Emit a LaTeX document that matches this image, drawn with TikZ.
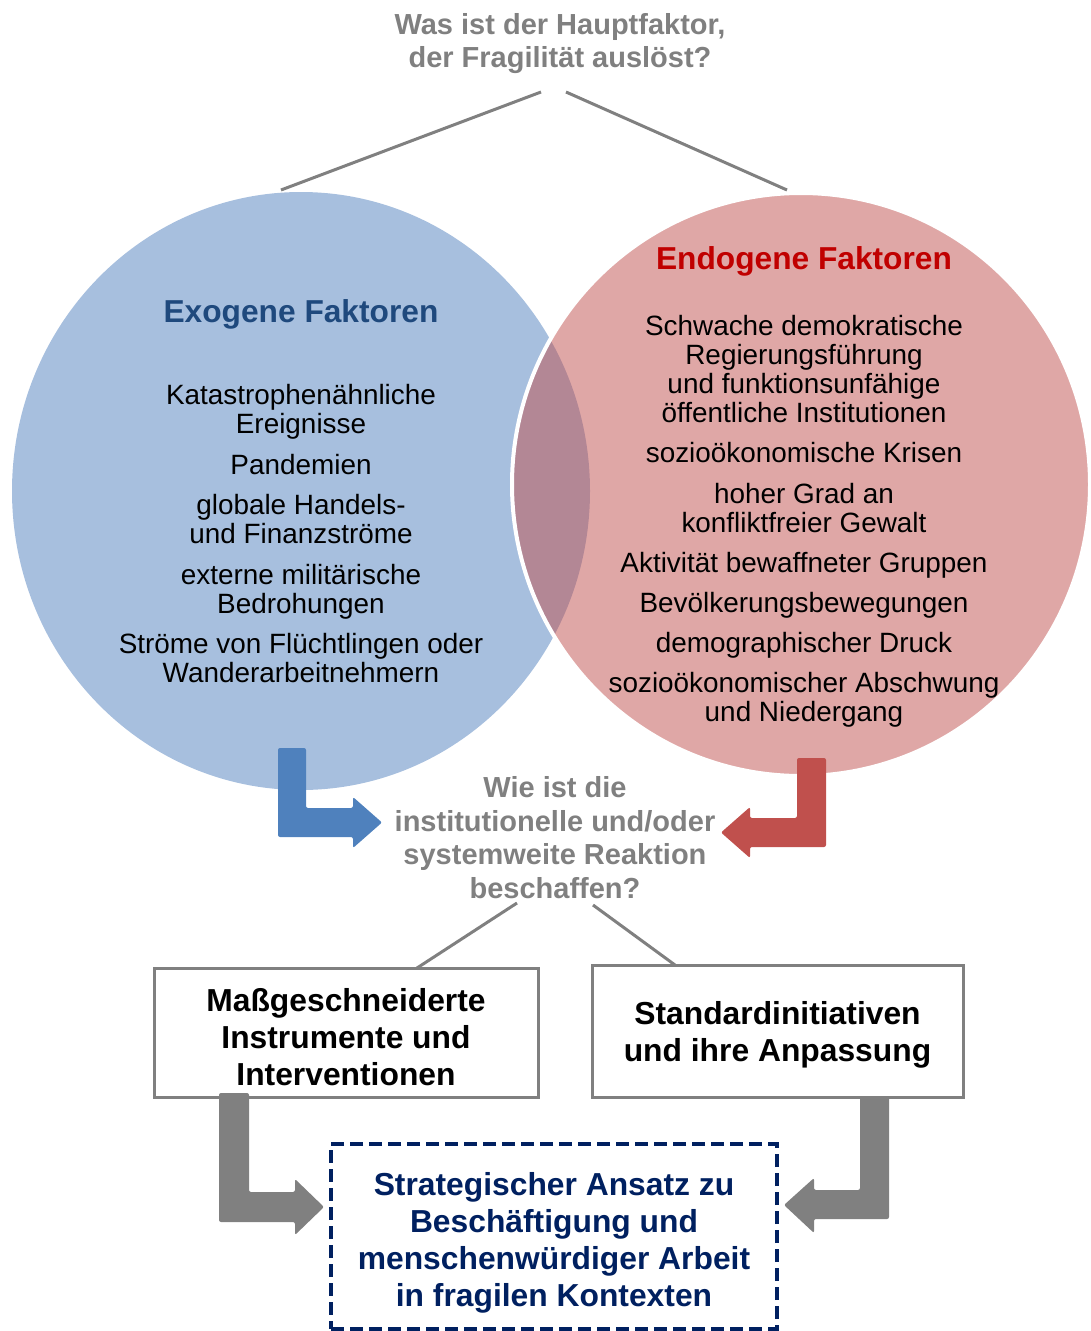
\documentclass[tikz,border=0pt]{standalone}
\usepackage{fontspec}
\setmainfont{Liberation Sans}
\definecolor{askgray}{RGB}{128,128,128}
\definecolor{exoblue}{RGB}{167,191,222}
\definecolor{exodark}{RGB}{31,73,125}
\definecolor{arrblue}{RGB}{79,129,189}
\definecolor{endored}{RGB}{192,80,77}
\definecolor{endodark}{RGB}{192,0,0}
\definecolor{navy}{RGB}{0,32,96}
% pushes the text of a box down a little
\newcommand{\toplift}[1]{\rule{0pt}{#1}}

\begin{document}
\begin{tikzpicture}[x=1pt, y=-1pt,
  ask/.style = {font=\fontsize{29}{33.5}\selectfont\bfseries, text=askgray, align=center, inner sep=0},
  head/.style = {font=\fontsize{31.7}{36}\selectfont\bfseries, inner sep=0},
  items/.style = {font=\fontsize{27.9}{29}\selectfont, align=center, inner sep=0},
  box/.style = {draw=askgray, line width=3pt, align=center, inner sep=0, font=\fontsize{31.8}{37}\selectfont\bfseries},
  link/.style = {draw=askgray, line width=3pt},
  blockarrow/.style = {rounded corners=2pt}]
\useasboundingbox (0,0) rectangle (1090,1331);

% the two circles
\fill[exoblue] (301,491) ellipse [x radius=289pt, y radius=299pt];
\draw[draw=white, line width=4pt, fill=endored, fill opacity=0.5] (801,484.5) ellipse [x radius=289pt, y radius=291.5pt];

% questions
\node[ask] (q1) at (560,43.5) {Was ist der Hauptfaktor,\\der Fragilität auslöst?};
\node[ask] (q2) at (555,837.5) {Wie ist die\\institutionelle und/oder\\systemweite Reaktion\\beschaffen?};

% factors
\node[head, text=exodark] (exo) at (301,314) {Exogene Faktoren};
\node[head, text=endodark] (endo) at (804,261) {Endogene Faktoren};
\node[items] (exolist) at (301,534) {Katastrophenähnliche\\Ereignisse\\[11.5pt]
  Pandemien\\[11.5pt]
  globale Handels-\\und Finanzströme\\[11.5pt]
  externe militärische\\Bedrohungen\\[11.5pt]
  Ströme von Flüchtlingen oder\\Wanderarbeitnehmern};
\node[items] (endolist) at (804,521.5) {Schwache demokratische\\Regierungsführung\\und funktionsunfähige\\öffentliche Institutionen\\[11pt]
  sozioökonomische Krisen\\[12pt]
  hoher Grad an\\konfliktfreier Gewalt\\[11pt]
  Aktivität bewaffneter Gruppen\\[11pt]
  Bevölkerungsbewegungen\\[11pt]
  demographischer Druck\\[11pt]
  sozioökonomischer Abschwung\\und Niedergang};

% answers
\node[box, minimum width=384, minimum height=129] (boxl) at (346,1032.5) {\toplift{33pt}Maßgeschneiderte\\Instrumente und\\Interventionen};
\node[box, minimum width=371, minimum height=132] (boxr) at (777.5,1031) {\toplift{31pt}Standardinitiativen\\und ihre Anpassung};
\node[draw=navy, line width=4pt, dash pattern=on 13pt off 6pt, minimum width=446, minimum height=185,
  align=center, inner sep=0, text=navy, font=\fontsize{31.8}{37}\selectfont\bfseries] (goal) at (554,1236.5)
  {\toplift{35pt}Strategischer Ansatz zu\\Beschäftigung und\\menschenwürdiger Arbeit\\in fragilen Kontexten};

% connectors
\coordinate (q1l) at (541,92);
\coordinate (q1r) at (566,92);
\coordinate (exotop) at (281,190);
\coordinate (endotop) at (787,190);
\coordinate (q2l) at (517,903);
\coordinate (q2r) at (593,905);
\coordinate (boxltop) at (417,968);
\coordinate (boxrtop) at (675,965);
\draw[link] (q1l) -- (exotop);
\draw[link] (q1r) -- (endotop);
\draw[link] (q2l) -- (boxltop);
\draw[link] (q2r) -- (boxrtop);

% block arrows
\fill[arrblue, blockarrow] (278,748) -- (306,748) -- (306,808) -- (353,808) -- (353,797) -- (382,822.5)
  -- (353,848) -- (353,837) -- (278,837) -- cycle;
\fill[endored, blockarrow] (797,758) -- (826,758) -- (826,847) -- (750,847) -- (750,858) -- (721,832.5)
  -- (750,807) -- (750,818) -- (797,818) -- cycle;
\fill[askgray, blockarrow] (219,1093) -- (249,1093) -- (249,1192) -- (295,1192) -- (295,1179) -- (324,1207)
  -- (295,1235) -- (295,1222) -- (219,1222) -- cycle;
\fill[askgray, blockarrow] (860,1097) -- (889,1097) -- (889,1219) -- (814,1219) -- (814,1233) -- (784,1205)
  -- (814,1178) -- (814,1190) -- (860,1190) -- cycle;
\end{tikzpicture}
\end{document}
